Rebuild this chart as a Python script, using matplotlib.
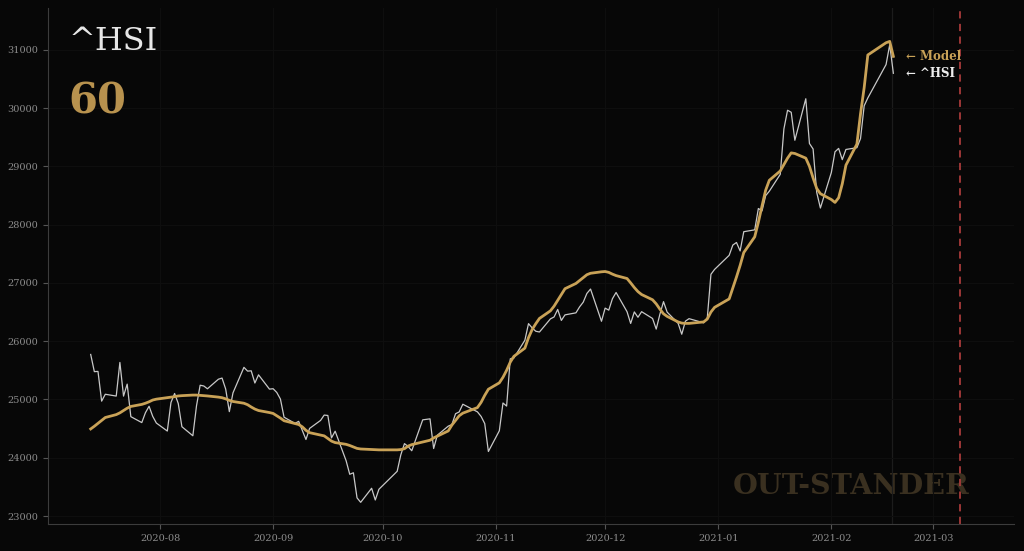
import pandas as pd
import matplotlib
matplotlib.use("Agg")
import matplotlib.pyplot as plt
import matplotlib.dates as mdates

# trading days, grouped by month
months = ["2020-07", "2020-08", "2020-09", "2020-10", "2020-11", "2020-12", "2021-01", "2021-02"]
days = [
    [13, 14, 15, 16, 17, 20, 21, 22, 23, 24, 27, 28, 29, 30, 31],
    [3, 4, 5, 6, 7, 10, 11, 12, 13, 14, 17, 18, 19, 20, 21, 24, 25, 26, 27, 28, 31],
    [1, 2, 3, 4, 7, 8, 9, 10, 11, 14, 15, 16, 17, 18, 21, 22, 23, 24, 25, 28, 29, 30],
    [5, 6, 7, 8, 9, 12, 14, 15, 16, 19, 20, 21, 22, 23, 27, 28, 29, 30],
    [2, 3, 4, 5, 6, 9, 10, 11, 12, 13, 16, 17, 18, 19, 20, 23, 24, 25, 26, 27, 30],
    [1, 2, 3, 4, 7, 8, 9, 10, 11, 14, 15, 16, 17, 18, 21, 22, 23, 24, 28, 29, 30, 31],
    [4, 5, 6, 7, 8, 11, 12, 13, 14, 15, 18, 19, 20, 21, 22, 25, 26, 27, 28, 29],
    [1, 2, 3, 4, 5, 8, 9, 10, 11, 16, 17, 18],
]

hsi = [
    25772, 25477, 25481, 24971, 25089, 25058, 25635, 25057, 25263, 24705, 24603, 24772, 24883, 24710, 24595,
    24458, 24947, 25102, 24930, 24532, 24377, 24890, 25244, 25231, 25183, 25347, 25367, 25178, 24791, 25113,
    25551, 25486, 25491, 25282, 25422, 25177,
    25184, 25120, 25007, 24695, 24589, 24624, 24469, 24313, 24503, 24640, 24732, 24725, 24340, 24455, 23950,
    23716, 23742, 23311, 23235, 23476, 23275, 23459,
    23767, 24050, 24242, 24193, 24120, 24650, 24667, 24158, 24386, 24542, 24569, 24755, 24786, 24918, 24787,
    24709, 24586, 24107,
    24462, 24939, 24886, 25696, 25712, 26016, 26301, 26227, 26170, 26157, 26382, 26415, 26544, 26356, 26451,
    26486, 26588, 26669, 26819, 26894, 26341,
    26567, 26532, 26728, 26835, 26506, 26304, 26502, 26410, 26506, 26389, 26207, 26460, 26678, 26498, 26307,
    26119, 26343, 26386, 26315, 26400, 27147, 27231,
    27473, 27649, 27693, 27548, 27878, 27910, 28276, 28235, 28496, 28573, 28862, 29642, 29962, 29927, 29447,
    30159, 29391, 29297, 28550, 28284,
    28893, 29249, 29307, 29114, 29289, 29319, 29476, 30038, 30173, 30746, 31085, 30596,
]

model = [
    24494, 24540, 24590, 24640, 24690, 24740, 24770, 24810, 24850, 24880, 24915, 24935, 24960, 24990, 25005,
    25030, 25040, 25048, 25060, 25065, 25075, 25075, 25070, 25065, 25060, 25040, 25030, 25010, 24985, 24965,
    24935, 24910, 24870, 24835, 24810, 24775,
    24760, 24720, 24680, 24635, 24585, 24570, 24530, 24470, 24430, 24390, 24375, 24330, 24285, 24260, 24230,
    24210, 24185, 24160, 24150, 24140, 24138, 24135,
    24135, 24140, 24155, 24200, 24225, 24270, 24300, 24340, 24370, 24460, 24560, 24640, 24720, 24765, 24860,
    24950, 25070, 25175,
    25285, 25380, 25500, 25640, 25740, 25880, 26060, 26200, 26300, 26390, 26520, 26600, 26700, 26800, 26900,
    26990, 27040, 27090, 27140, 27165, 27190,
    27195, 27180, 27150, 27125, 27075, 27000, 26920, 26850, 26800, 26710, 26640, 26550, 26470, 26425, 26330,
    26310, 26305, 26305, 26330, 26380, 26500, 26580,
    26725, 26910, 27100, 27300, 27520, 27790, 28040, 28320, 28590, 28760, 28920, 29030, 29140, 29230, 29220,
    29140, 29000, 28800, 28620, 28530,
    28430, 28380, 28460, 28700, 29020, 29380, 29900, 30350, 30910, 31120, 31143, 30886,
]

ticker = "^HSI"
horizon = "60"
last_seen = "2021-02-17 12:00"
target_day = "2021-03-08 08:00"

dates = pd.to_datetime([f"{m}-{d:02d}" for m, ds in zip(months, days) for d in ds])

bg = "#070707"
gold = "#c9a257"

plt.rcParams['font.family'] = 'DejaVu Serif'
fig = plt.figure(figsize=(10.24, 5.51), dpi=100, facecolor=bg)
ax = fig.add_axes([0.047, 0.049, 0.943, 0.937])
ax.set_facecolor(bg)

ax.plot(dates, hsi, color="#c8c8c8", lw=0.9, zorder=3)
ax.plot(dates, model, color=gold, lw=2.0, zorder=4)

ax.axvline(pd.Timestamp(last_seen), color="#1c1c1c", lw=0.9, zorder=1)
ax.axvline(pd.Timestamp(target_day), color="#a83a3a", lw=1.3, ls=(0, (4, 3)), zorder=2)

ax.set_xlim(pd.Timestamp("2020-07-01 08:00"), pd.Timestamp("2021-03-23"))
ax.set_ylim(22863, 31721)
ax.xaxis.set_major_locator(mdates.MonthLocator())
ax.xaxis.set_major_formatter(mdates.DateFormatter("%Y-%m"))
ax.set_yticks([23000, 24000, 25000, 26000, 27000, 28000, 29000, 30000, 31000])

ax.grid(True, color="#0e0e0e", lw=0.8)
for s in ["top", "right"]:
    ax.spines[s].set_visible(False)
for s in ["left", "bottom"]:
    ax.spines[s].set_color("#3c3c3c")
ax.tick_params(colors="#555555", labelcolor="#8c8c8c", labelsize=7, length=3.5)

# labels
ax.text(0.0207, 0.9186, ticker, transform=ax.transAxes, fontsize=23,
        color="#e6e6e6", va="baseline", ha="left")
ax.text(0.0207, 0.7946, horizon, transform=ax.transAxes, fontsize=30,
        fontweight="bold", color="#b8924e", va="baseline", ha="left")
ax.text(0.954, 0.058, "OUT-STANDER", transform=ax.transAxes, fontsize=20.5,
        fontweight="bold", color="#3a3020", va="baseline", ha="right", zorder=0)

ax.annotate("\u2190 Model", (dates[-1], model[-1]), xytext=(9, 0), textcoords="offset points",
            color=gold, fontsize=8.5, fontweight="bold", va="center")
ax.annotate("\u2190 " + ticker, (dates[-1], hsi[-1]), xytext=(9, 0), textcoords="offset points",
            color="#eeeeee", fontsize=8.5, fontweight="bold", va="center")

fig.savefig("out.png", dpi=100, facecolor=bg)
